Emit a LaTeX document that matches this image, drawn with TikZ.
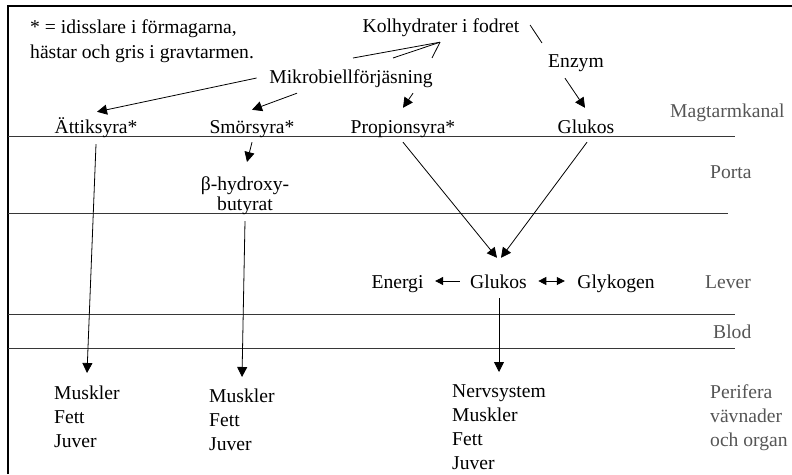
\documentclass[tikz,border=0pt]{standalone}
\usepackage{fontspec}
\setmainfont{Liberation Serif}
\usetikzlibrary{arrows.meta}
\definecolor{lbl}{RGB}{85,85,85}
\definecolor{rulec}{RGB}{55,55,55}
\begin{document}
\begin{tikzpicture}[x=1pt,y=-1pt,
  every node/.style={font=\fontsize{19.6}{24}\selectfont, inner sep=0pt},
  txt/.style={text height=14pt, text depth=4pt, anchor=base},
  gl/.style={text=lbl, anchor=base west},
  ln/.style={line width=0.8pt},
  arr/.style={ln, -{Triangle[length=10pt,width=10pt]}},
  arrs/.style={ln, -{Triangle[length=8pt,width=8pt]}},
  arrd/.style={ln, {Triangle[length=8pt,width=8pt]}-{Triangle[length=8pt,width=8pt]}},
  sep/.style={rulec, line width=0.9pt}]
\useasboundingbox (0,0) rectangle (792,474);
% frame
\draw[line width=2pt] (8,474) -- (8,6) -- (792,6);
% separators
\draw[sep] (8,136) -- (735,136);
\draw[sep] (8,213) -- (728,213);
\draw[sep] (8,314) -- (735,314);
\draw[sep] (8,348) -- (735,348);
% note
\node[anchor=north west, align=left] (note) at (30,19.6) {* = idisslare i förmagarna,\\[1pt]hästar och gris i gravtarmen.};
% main nodes
\node[txt] (kol) at (441,32) {Kolhydrater i fodret};
\node[txt] (mik) at (351,83) {Mikrobiellförjäsning};
\node[txt] (enz) at (576,67) {Enzym};
\node[txt] (att) at (96,133) {Ättiksyra*};
\node[txt] (smo) at (252,133) {Smörsyra*};
\node[txt] (pro) at (403,133) {Propionsyra*};
\node[txt] (glu1) at (586,133) {Glukos};
\node[anchor=north, align=center] (beta) at (245,176.6) {β-hydroxy-\\[-4pt]butyrat};
\node[txt] (energi) at (397.5,288) {Energi};
\node[txt] (glu2) at (498.5,288) {Glukos};
\node[txt] (glyk) at (616,288) {Glykogen};
\node[anchor=north west, align=left] (c1) at (54,385.6) {Muskler\\Fett\\Juver};
\node[anchor=north west, align=left] (c2) at (209,388.6) {Muskler\\Fett\\Juver};
\node[anchor=north west, align=left] (c3) at (452,384.6) {Nervsystem\\Muskler\\Fett\\Juver};
% gray labels
\node[gl] (mag) at (670,117) {Magtarmkanal};
\node[gl] (porta) at (710,178) {Porta};
\node[gl] (lever) at (705,288) {Lever};
\node[gl] (blod) at (713,338) {Blod};
\node[anchor=north west, align=left, text=lbl] (per) at (710,384.6) {Perifera\\vävnader\\och organ};
% connectors
\coordinate (k1) at (353,58);
\coordinate (k2) at (393,58);
\coordinate (k3) at (432,58);
\coordinate (ke) at (542,43);
\draw[ln] ([shift={(-1,6)}]kol.south) -- (k1);
\draw[ln] ([shift={(-1,6)}]kol.south) -- (k2);
\draw[ln] ([shift={(-1,6)}]kol.south) -- (k3);
\draw[ln] ([shift={(10.5,-2)}]kol.east) -- (ke);
\draw[arr] ([shift={(-11,7)}]enz.south) -- ([shift={(-1,-11)}]glu1.north);
\draw[arr] ([shift={(-12.5,0)}]mik.west) -- ([shift={(1,-7)}]att.north);
\draw[arr] ([shift={(-54,6)}]mik.south) -- ([shift={(0,-9)}]smo.north);
\draw[arr] ([shift={(62,6)}]mik.south) -- ([shift={(0,-11)}]pro.north);
\draw[arr] ([shift={(0,5)}]smo.south) -- ([shift={(2,-14.6)}]beta.north);
\draw[arr] ([shift={(0,7)}]att.south) -- ([shift={(33,-12.6)}]c1.north west);
\draw[arr] ([shift={(0,6)}]beta.south) -- ([shift={(33,-11.6)}]c2.north west);
\draw[arr] ([shift={(0,5)}]pro.south) -- ([shift={(-1.5,-16)}]glu2.north);
\draw[arr] ([shift={(1,5)}]glu1.south) -- ([shift={(2.5,-16)}]glu2.north);
\draw[arrs] ([shift={(-10.3,-2)}]glu2.west) -- ([shift={(11.5,-2)}]energi.east);
\draw[arrd] ([shift={(11.3,-2)}]glu2.east) -- ([shift={(-12.35,-2)}]glyk.west);
\draw[arr] ([shift={(0.5,6)}]glu2.south) -- ([shift={(47,-12.6)}]c3.north west);
\end{tikzpicture}
\end{document}
